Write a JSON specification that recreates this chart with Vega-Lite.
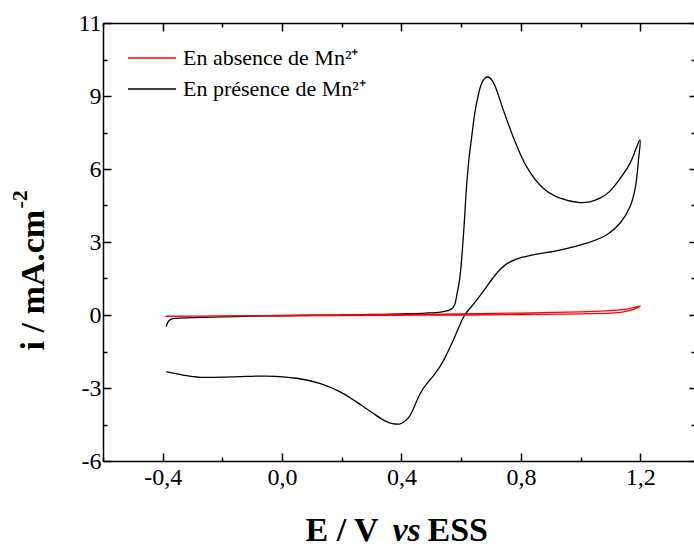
{
  "$schema": "https://vega.github.io/schema/vega-lite/v6.json",
  "width": 591,
  "height": 438,
  "autosize": {"type": "none"},
  "padding": {"left": 103, "top": 23, "right": 0, "bottom": 86},
  "background": "white",
  "config": {
    "view": {"stroke": null},
    "font": "Liberation Serif",
    "axis": {
      "grid": false,
      "domainColor": "black",
      "domainWidth": 1.5,
      "tickColor": "black",
      "tickWidth": 1.5,
      "labelFont": "Liberation Serif",
      "labelFontSize": 24,
      "labelColor": "black",
      "titleFont": "Liberation Serif",
      "titleColor": "black",
      "titleFontWeight": "bold",
      "titleFontSize": 34
    }
  },
  "data": {
    "values": [
      {"s": "En présence de Mn²⁺", "o": 1, "E": -0.388, "i": -0.48},
      {"s": "En présence de Mn²⁺", "o": 2, "E": -0.383, "i": -0.3},
      {"s": "En présence de Mn²⁺", "o": 3, "E": -0.375, "i": -0.19},
      {"s": "En présence de Mn²⁺", "o": 4, "E": -0.36, "i": -0.14},
      {"s": "En présence de Mn²⁺", "o": 5, "E": -0.3, "i": -0.11},
      {"s": "En présence de Mn²⁺", "o": 6, "E": -0.2, "i": -0.08},
      {"s": "En présence de Mn²⁺", "o": 7, "E": -0.1, "i": -0.05},
      {"s": "En présence de Mn²⁺", "o": 8, "E": 0.0, "i": -0.03},
      {"s": "En présence de Mn²⁺", "o": 9, "E": 0.1, "i": -0.01},
      {"s": "En présence de Mn²⁺", "o": 10, "E": 0.2, "i": 0.0},
      {"s": "En présence de Mn²⁺", "o": 11, "E": 0.3, "i": 0.02},
      {"s": "En présence de Mn²⁺", "o": 12, "E": 0.4, "i": 0.05},
      {"s": "En présence de Mn²⁺", "o": 13, "E": 0.48, "i": 0.08},
      {"s": "En présence de Mn²⁺", "o": 14, "E": 0.53, "i": 0.12},
      {"s": "En présence de Mn²⁺", "o": 15, "E": 0.56, "i": 0.2},
      {"s": "En présence de Mn²⁺", "o": 16, "E": 0.572, "i": 0.3},
      {"s": "En présence de Mn²⁺", "o": 17, "E": 0.579, "i": 0.45},
      {"s": "En présence de Mn²⁺", "o": 18, "E": 0.585, "i": 0.8},
      {"s": "En présence de Mn²⁺", "o": 19, "E": 0.596, "i": 1.58},
      {"s": "En présence de Mn²⁺", "o": 20, "E": 0.608, "i": 3.36},
      {"s": "En présence de Mn²⁺", "o": 21, "E": 0.618, "i": 5.28},
      {"s": "En présence de Mn²⁺", "o": 22, "E": 0.626, "i": 6.4},
      {"s": "En présence de Mn²⁺", "o": 23, "E": 0.635, "i": 7.3},
      {"s": "En présence de Mn²⁺", "o": 24, "E": 0.645, "i": 8.25},
      {"s": "En présence de Mn²⁺", "o": 25, "E": 0.655, "i": 8.9},
      {"s": "En présence de Mn²⁺", "o": 26, "E": 0.668, "i": 9.5},
      {"s": "En présence de Mn²⁺", "o": 27, "E": 0.68, "i": 9.74},
      {"s": "En présence de Mn²⁺", "o": 28, "E": 0.689, "i": 9.78},
      {"s": "En présence de Mn²⁺", "o": 29, "E": 0.7, "i": 9.7},
      {"s": "En présence de Mn²⁺", "o": 30, "E": 0.713, "i": 9.42},
      {"s": "En présence de Mn²⁺", "o": 31, "E": 0.741, "i": 8.43},
      {"s": "En présence de Mn²⁺", "o": 32, "E": 0.774, "i": 7.33},
      {"s": "En présence de Mn²⁺", "o": 33, "E": 0.819, "i": 6.1},
      {"s": "En présence de Mn²⁺", "o": 34, "E": 0.875, "i": 5.21},
      {"s": "En présence de Mn²⁺", "o": 35, "E": 0.931, "i": 4.8},
      {"s": "En présence de Mn²⁺", "o": 36, "E": 0.998, "i": 4.62},
      {"s": "En présence de Mn²⁺", "o": 37, "E": 1.03, "i": 4.65},
      {"s": "En présence de Mn²⁺", "o": 38, "E": 1.065, "i": 4.8},
      {"s": "En présence de Mn²⁺", "o": 39, "E": 1.095, "i": 5.05},
      {"s": "En présence de Mn²⁺", "o": 40, "E": 1.121, "i": 5.42},
      {"s": "En présence de Mn²⁺", "o": 41, "E": 1.166, "i": 6.24},
      {"s": "En présence de Mn²⁺", "o": 42, "E": 1.199, "i": 7.2},
      {"s": "En présence de Mn²⁺", "o": 43, "E": 1.194, "i": 6.38},
      {"s": "En présence de Mn²⁺", "o": 44, "E": 1.184, "i": 5.28},
      {"s": "En présence de Mn²⁺", "o": 45, "E": 1.166, "i": 4.46},
      {"s": "En présence de Mn²⁺", "o": 46, "E": 1.132, "i": 3.77},
      {"s": "En présence de Mn²⁺", "o": 47, "E": 1.087, "i": 3.29},
      {"s": "En présence de Mn²⁺", "o": 48, "E": 1.02, "i": 2.95},
      {"s": "En présence de Mn²⁺", "o": 49, "E": 0.931, "i": 2.67},
      {"s": "En présence de Mn²⁺", "o": 50, "E": 0.841, "i": 2.47},
      {"s": "En présence de Mn²⁺", "o": 51, "E": 0.785, "i": 2.3},
      {"s": "En présence de Mn²⁺", "o": 52, "E": 0.75, "i": 2.08},
      {"s": "En présence de Mn²⁺", "o": 53, "E": 0.725, "i": 1.8},
      {"s": "En présence de Mn²⁺", "o": 54, "E": 0.705, "i": 1.5},
      {"s": "En présence de Mn²⁺", "o": 55, "E": 0.685, "i": 1.16},
      {"s": "En présence de Mn²⁺", "o": 56, "E": 0.65, "i": 0.58},
      {"s": "En présence de Mn²⁺", "o": 57, "E": 0.612, "i": 0.0},
      {"s": "En présence de Mn²⁺", "o": 58, "E": 0.595, "i": -0.42},
      {"s": "En présence de Mn²⁺", "o": 59, "E": 0.575, "i": -1.0},
      {"s": "En présence de Mn²⁺", "o": 60, "E": 0.555, "i": -1.52},
      {"s": "En présence de Mn²⁺", "o": 61, "E": 0.535, "i": -2.0},
      {"s": "En présence de Mn²⁺", "o": 62, "E": 0.51, "i": -2.45},
      {"s": "En présence de Mn²⁺", "o": 63, "E": 0.488, "i": -2.78},
      {"s": "En présence de Mn²⁺", "o": 64, "E": 0.47, "i": -3.08},
      {"s": "En présence de Mn²⁺", "o": 65, "E": 0.455, "i": -3.42},
      {"s": "En présence de Mn²⁺", "o": 66, "E": 0.44, "i": -3.85},
      {"s": "En présence de Mn²⁺", "o": 67, "E": 0.425, "i": -4.2},
      {"s": "En présence de Mn²⁺", "o": 68, "E": 0.408, "i": -4.4},
      {"s": "En présence de Mn²⁺", "o": 69, "E": 0.393, "i": -4.48},
      {"s": "En présence de Mn²⁺", "o": 70, "E": 0.378, "i": -4.48},
      {"s": "En présence de Mn²⁺", "o": 71, "E": 0.36, "i": -4.43},
      {"s": "En présence de Mn²⁺", "o": 72, "E": 0.34, "i": -4.32},
      {"s": "En présence de Mn²⁺", "o": 73, "E": 0.305, "i": -4.04},
      {"s": "En présence de Mn²⁺", "o": 74, "E": 0.249, "i": -3.57},
      {"s": "En présence de Mn²⁺", "o": 75, "E": 0.193, "i": -3.15},
      {"s": "En présence de Mn²⁺", "o": 76, "E": 0.126, "i": -2.81},
      {"s": "En présence de Mn²⁺", "o": 77, "E": 0.048, "i": -2.6},
      {"s": "En présence de Mn²⁺", "o": 78, "E": -0.052, "i": -2.51},
      {"s": "En présence de Mn²⁺", "o": 79, "E": -0.164, "i": -2.54},
      {"s": "En présence de Mn²⁺", "o": 80, "E": -0.276, "i": -2.56},
      {"s": "En présence de Mn²⁺", "o": 81, "E": -0.332, "i": -2.47},
      {"s": "En présence de Mn²⁺", "o": 82, "E": -0.388, "i": -2.33},
      {"s": "En absence de Mn²⁺", "o": 1, "E": -0.39, "i": -0.06},
      {"s": "En absence de Mn²⁺", "o": 2, "E": -0.2, "i": -0.04},
      {"s": "En absence de Mn²⁺", "o": 3, "E": 0.0, "i": -0.02},
      {"s": "En absence de Mn²⁺", "o": 4, "E": 0.2, "i": 0.0},
      {"s": "En absence de Mn²⁺", "o": 5, "E": 0.4, "i": 0.02},
      {"s": "En absence de Mn²⁺", "o": 6, "E": 0.6, "i": 0.05},
      {"s": "En absence de Mn²⁺", "o": 7, "E": 0.8, "i": 0.08},
      {"s": "En absence de Mn²⁺", "o": 8, "E": 1.0, "i": 0.13},
      {"s": "En absence de Mn²⁺", "o": 9, "E": 1.1, "i": 0.18},
      {"s": "En absence de Mn²⁺", "o": 10, "E": 1.16, "i": 0.25},
      {"s": "En absence de Mn²⁺", "o": 11, "E": 1.2, "i": 0.37},
      {"s": "En absence de Mn²⁺", "o": 12, "E": 1.19, "i": 0.3},
      {"s": "En absence de Mn²⁺", "o": 13, "E": 1.17, "i": 0.2},
      {"s": "En absence de Mn²⁺", "o": 14, "E": 1.14, "i": 0.12},
      {"s": "En absence de Mn²⁺", "o": 15, "E": 1.1, "i": 0.08},
      {"s": "En absence de Mn²⁺", "o": 16, "E": 1.0, "i": 0.05},
      {"s": "En absence de Mn²⁺", "o": 17, "E": 0.8, "i": 0.02},
      {"s": "En absence de Mn²⁺", "o": 18, "E": 0.6, "i": 0.0},
      {"s": "En absence de Mn²⁺", "o": 19, "E": 0.4, "i": -0.01},
      {"s": "En absence de Mn²⁺", "o": 20, "E": 0.2, "i": -0.02},
      {"s": "En absence de Mn²⁺", "o": 21, "E": 0.0, "i": -0.03},
      {"s": "En absence de Mn²⁺", "o": 22, "E": -0.2, "i": -0.04},
      {"s": "En absence de Mn²⁺", "o": 23, "E": -0.39, "i": -0.05}
    ]
  },
  "layer": [
    {
      "mark": {"type": "line", "strokeWidth": 1.3, "clip": true, "interpolate": "catmull-rom"},
      "encoding": {
        "x": {
          "field": "E", "type": "quantitative",
          "scale": {"domain": [-0.6, 1.38], "nice": false, "zero": false},
          "axis": {
            "orient": "bottom",
            "values": [-0.6, -0.4, -0.2, 0, 0.2, 0.4, 0.6, 0.8, 1.0, 1.2],
            "tickSize": {"condition": {"test": "round(datum.value*10) % 4 == 0", "value": -8}, "value": -4},
            "labelExpr": "round(datum.value*10) % 4 == 0 ? (datum.value < -0.001 ? '-' : '') + replace(format(abs(datum.value), '.1f'), '.', ',') : ''",
            "labelPadding": 12,
            "labelFlush": false,
            "title": "E / V",
            "titleAnchor": "start",
            "titleAlign": "left",
            "titleBaseline": "alphabetic",
            "titleX": 202,
            "titleY": 79
          }
        },
        "y": {
          "field": "i", "type": "quantitative",
          "scale": {"domain": [-6, 12], "nice": false, "zero": false},
          "axis": {
            "orient": "left",
            "values": [-6, -4.5, -3, -1.5, 0, 1.5, 3, 4.5, 6, 7.5, 9, 10.5, 12],
            "tickSize": {"condition": {"test": "datum.value % 3 == 0", "value": -8}, "value": -4},
            "labelExpr": "datum.value % 3 == 0 ? (datum.value == 12 ? '11' : (datum.value < 0 ? '-' : '') + abs(datum.value)) : ''",
            "labelPadding": 10,
            "labelFlush": false,
            "title": "i / mA.cm",
            "titleAngle": -90,
            "titleAnchor": "start",
            "titleAlign": "left",
            "titleBaseline": "alphabetic",
            "titleX": -60,
            "titleY": 327
          }
        },
        "color": {
          "field": "s", "type": "nominal",
          "scale": {"domain": ["En absence de Mn²⁺", "En présence de Mn²⁺"], "range": ["#ff0000", "#000000"]},
          "legend": {
            "title": null,
            "orient": "none",
            "legendX": 24,
            "legendY": 23,
            "padding": 0,
            "symbolType": "stroke",
            "symbolSize": 2304,
            "symbolStrokeWidth": 1.3,
            "clipHeight": 24,
            "rowPadding": 7,
            "labelOffset": 6,
            "labelFont": "Liberation Serif",
            "labelFontSize": 22,
            "labelColor": "black",
            "labelLimit": 0
          }
        },
        "order": {"field": "o", "type": "quantitative"}
      }
    },
    {
      "mark": {"type": "point", "opacity": 0},
      "encoding": {
        "x": {
          "field": "E", "type": "quantitative",
          "axis": {
            "orient": "top",
            "values": [-0.6, -0.4, -0.2, 0, 0.2, 0.4, 0.6, 0.8, 1.0, 1.2],
            "tickSize": {"condition": {"test": "round(datum.value*10) % 4 == 0", "value": -8}, "value": -4},
            "labels": false,
            "title": null
          }
        },
        "y": {
          "field": "i", "type": "quantitative",
          "axis": {
            "orient": "right",
            "values": [-6, -4.5, -3, -1.5, 0, 1.5, 3, 4.5, 6, 7.5, 9, 10.5, 12],
            "tickSize": {"condition": {"test": "datum.value % 3 == 0", "value": -5}, "value": -3},
            "domain": false,
            "labels": false,
            "title": null
          }
        }
      }
    },
    {
      "mark": {"type": "point", "opacity": 0},
      "encoding": {
        "x": {
          "field": "E", "type": "quantitative",
          "axis": {
            "orient": "bottom",
            "domain": false, "ticks": false, "labels": false,
            "title": "vs",
            "titleFontStyle": "italic",
            "titleAnchor": "start",
            "titleAlign": "left",
            "titleBaseline": "alphabetic",
            "titleX": 289,
            "titleY": 79
          }
        },
        "y": {
          "field": "i", "type": "quantitative",
          "axis": {
            "orient": "left",
            "domain": false, "ticks": false, "labels": false,
            "title": "-2",
            "titleFontSize": 22,
            "titleAngle": -90,
            "titleAnchor": "start",
            "titleAlign": "left",
            "titleBaseline": "alphabetic",
            "titleX": -77,
            "titleY": 185
          }
        }
      }
    },
    {
      "mark": {"type": "point", "opacity": 0},
      "encoding": {
        "x": {
          "field": "E", "type": "quantitative",
          "axis": {
            "orient": "bottom",
            "domain": false, "ticks": false, "labels": false,
            "title": "ESS",
            "titleAnchor": "start",
            "titleAlign": "left",
            "titleBaseline": "alphabetic",
            "titleX": 324,
            "titleY": 79
          }
        },
        "y": {
          "field": "i", "type": "quantitative",
          "axis": {
            "orient": "left",
            "domain": false, "ticks": false, "labels": false,
            "title": null
          }
        }
      }
    }
  ],
  "resolve": {"axis": {"x": "independent", "y": "independent"}}
}
